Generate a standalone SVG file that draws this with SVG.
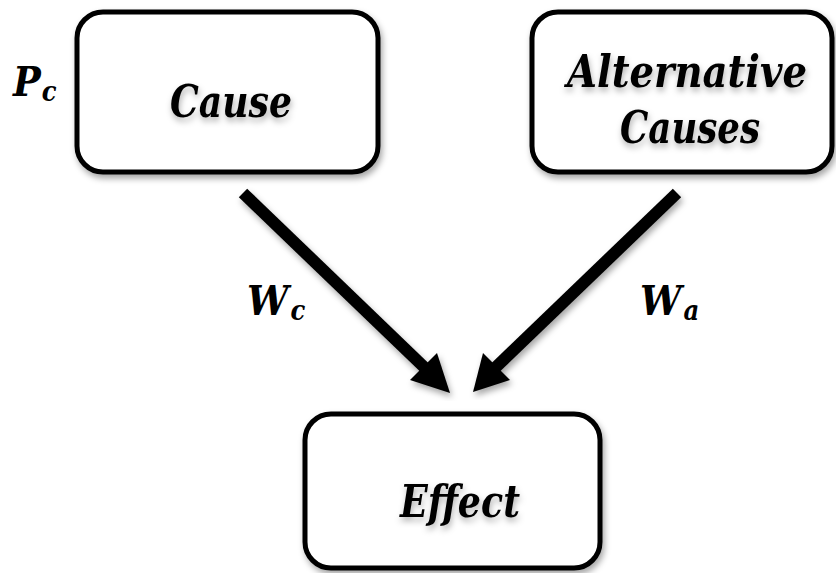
<svg xmlns="http://www.w3.org/2000/svg" width="836" height="573" viewBox="0 0 836 573">
<defs>
<filter id="sh" x="-20%" y="-20%" width="140%" height="140%">
<feDropShadow dx="2" dy="4" stdDeviation="3" flood-color="#000" flood-opacity="0.35"/>
</filter>
<filter id="tsh" x="-20%" y="-20%" width="140%" height="160%">
<feDropShadow dx="1" dy="4" stdDeviation="3" flood-color="#000" flood-opacity="0.3"/>
</filter>
</defs>
<style>
.box{fill:#fff;stroke:#000;stroke-width:5;filter:url(#sh)}
.lbl{font-family:"DejaVu Serif Condensed","DejaVu Serif",serif;font-stretch:condensed;font-weight:bold;font-style:italic;font-size:44px;fill:#000;text-anchor:middle;filter:url(#tsh)}
.var{font-family:"DejaVu Serif Condensed","DejaVu Serif",serif;font-stretch:condensed;font-weight:bold;font-style:italic;font-size:41px;fill:#000}
.sub{font-size:27px}
.ln{stroke:#000;stroke-width:12;fill:none;filter:url(#sh)}
.hd{fill:#000;filter:url(#sh)}
</style>
<g id="cause">
<rect class="box" x="77" y="12" width="301" height="160" rx="26"/>
<text class="lbl" x="231" y="117" textLength="122" lengthAdjust="spacingAndGlyphs">Cause</text>
</g>
<g id="alternative">
<rect class="box" x="532" y="12" width="300" height="160" rx="26"/>
<text class="lbl" x="687" y="87" textLength="240" lengthAdjust="spacingAndGlyphs">Alternative</text>
<text class="lbl" x="690" y="143" textLength="140" lengthAdjust="spacingAndGlyphs">Causes</text>
</g>
<g id="effect">
<rect class="box" x="305" y="414" width="295" height="154" rx="26"/>
<text class="lbl" x="460" y="517" textLength="120" lengthAdjust="spacingAndGlyphs">Effect</text>
</g>
<g id="pc">
<text class="var" x="13" y="96">P<tspan class="sub" dx="1" dy="5">c</tspan></text>
</g>
<g id="connectors">
<line class="ln" x1="243" y1="193" x2="425" y2="368"/>
<polygon class="hd" points="450,393 410,380 437,353"/>
<line class="ln" x1="677" y1="193" x2="495" y2="368"/>
<polygon class="hd" points="473,392 483,353 510,380"/>
<text class="var" x="247" y="315">W<tspan class="sub" dx="2" dy="5">c</tspan></text>
<text class="var" x="640" y="315">W<tspan class="sub" dx="2" dy="5">a</tspan></text>
</g>
</svg>
